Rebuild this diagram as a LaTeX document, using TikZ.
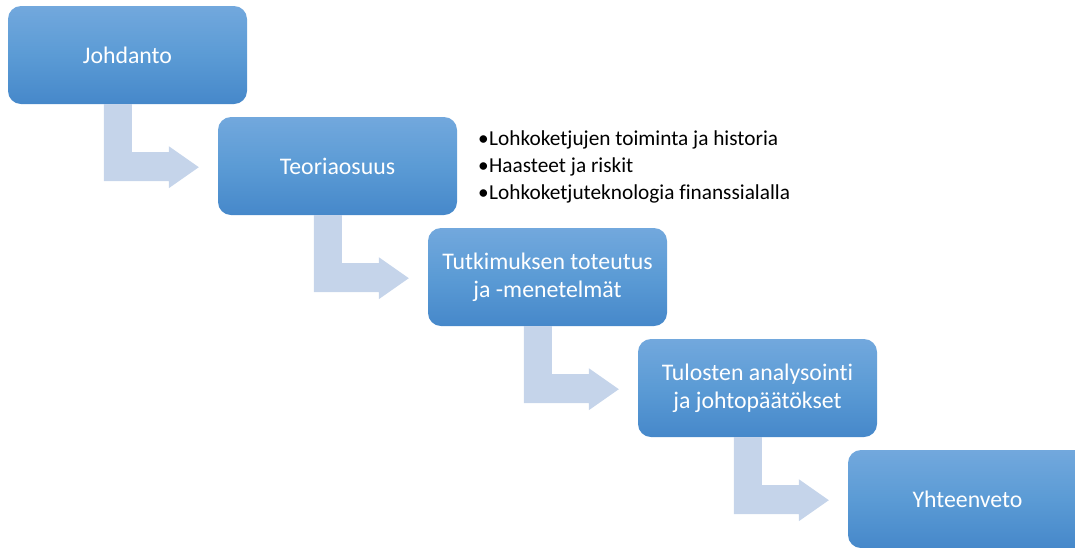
\documentclass[tikz,border=0pt]{standalone}
\usepackage{fontspec}
\setmainfont[Ligatures={NoCommon}]{Carlito}
\usetikzlibrary{calc}
\definecolor{boxtop}{RGB}{114,168,221}
\definecolor{boxmid}{RGB}{91,155,213}
\definecolor{boxbot}{RGB}{70,136,202}
\definecolor{arrowfill}{RGB}{197,212,234}
\begin{document}
\begin{tikzpicture}[x=1pt,y=1pt,
  stepbox/.style={minimum width=239pt, minimum height=98pt, rounded corners=13pt,
    top color=boxtop, bottom color=boxbot, middle color=boxmid,
    inner sep=0pt, text=white, align=center,
    font=\fontsize{23.8}{28}\selectfont},
  bullettext/.style={anchor=base west, inner sep=0pt, text=black,
    font=\fontsize{21.3}{27}\selectfont},
  bentarrow/.style={fill=arrowfill, draw=none}]
\useasboundingbox (0,0) rectangle (1075,-547);
\clip (0,0) rectangle (1075,-547);

\node[stepbox] (b1) at (127.5,-55) {Johdanto};
\node[stepbox] (b2) at (337.5,-166) {Teoriaosuus};
\node[stepbox] (b3) at (547.5,-277) {Tutkimuksen toteutus\\ja -menetelmät};
\node[stepbox] (b4) at (757.5,-388) {Tulosten analysointi\\ja johtopäätökset};
\node[stepbox] (b5) at (967.5,-499) {Yhteenveto};

\foreach \b in {b1,b2,b3,b4}{
  \fill[bentarrow] ($(\b.south west)+(96,0)$) -- ++(28,0) -- ++(0,-48) -- ++(37,0)
    -- ++(0,6) -- ++(30,-21) -- ++(-30,-21) -- ++(0,7) -- ++(-65,0) -- cycle;
}

\node[bullettext] (t1) at (478,-145) {\makebox[11pt][l]{•}Lohkoketjujen toiminta ja historia};
\node[bullettext] (t2) at (478,-172) {\makebox[11pt][l]{•}Haasteet ja riskit};
\node[bullettext] (t3) at (478,-199) {\makebox[11pt][l]{•}Lohkoketjuteknologia finanssialalla};
\end{tikzpicture}
\end{document}
